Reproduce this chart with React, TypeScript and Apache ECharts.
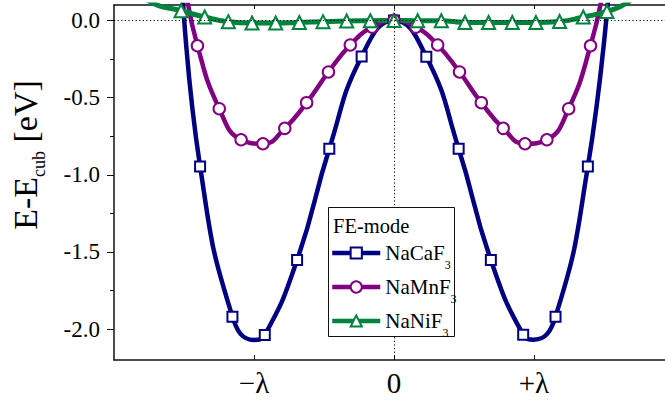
import React, { useEffect, useRef } from "react";
import * as echarts from "echarts";

// ---- Data (x in units of λ, energies in eV) ----
const seriesNames = ["NaCaF3", "NaMnF3", "NaNiF3"];

// NaCaF3 markers
const caX = [-1.385, -1.154, -0.923, -0.692, -0.462, -0.231, 0, 0.231, 0.462, 0.692, 0.923, 1.154, 1.385];
const caE = [-0.946, -1.919, -2.038, -1.552, -0.831, -0.233, 0, -0.235, -0.831, -1.552, -2.036, -1.919, -0.946];
// NaCaF3 fitted curve extra points (no marker)
const caFitX = [-1.512, -1.0, 1.0, 1.535];
const caFitE = [0.2, -2.07, -2.068, 0.2];

// NaMnF3 markers
const mnX = [-1.404, -1.248, -1.092, -0.936, -0.78, -0.624, -0.468, -0.312, -0.156, 0, 0.156, 0.312, 0.468, 0.624, 0.78, 0.936, 1.092, 1.248, 1.404];
const mnE = [-0.164, -0.572, -0.773, -0.799, -0.699, -0.533, -0.334, -0.159, -0.043, 0, -0.043, -0.159, -0.334, -0.533, -0.699, -0.799, -0.773, -0.572, -0.164];
const mnFitX = [-1.49, 1.497];
const mnFitE = [0.21, 0.21];

// NaNiF3 markers
const niX = [-1.521, -1.352, -1.183, -1.014, -0.845, -0.676, -0.507, -0.338, -0.169, 0, 0.169, 0.338, 0.507, 0.676, 0.845, 1.014, 1.183, 1.352, 1.521];
const niE = [0.063, 0.022, -0.008, -0.017, -0.017, -0.013, -0.008, -0.004, -0.002, 0, -0.002, -0.002, -0.013, -0.013, -0.013, -0.013, -0.007, 0.022, 0.058];
const niFitX = [-1.9, -1.74, 1.665, 1.85];
const niFitE = [0.26, 0.12, 0.115, 0.26];

// Axis ticks
const yMajor = [-2, -1.5, -1, -0.5, 0];
const yMinor = [-1.75, -1.25, -0.75, -0.25];
const xTicks = [-1, 0, 1];
const xTickLabels: Record<string, string> = { "-1": "\u2212\u03bb", "0": "0", "1": "+\u03bb" };

const NAVY = "#000080";
const PURPLE = "#800080";
const GREEN = "#00843d";
const SERIF = "'Liberation Serif', 'Times New Roman', serif";

function build(xm: number[], em: number[], xf: number[], ef: number[]) {
  const pts: any[] = [
    ...xm.map((x, i) => ({ value: [x, em[i]] })),
    ...xf.map((x, i) => ({ value: [x, ef[i]], symbol: "none" })),
  ];
  pts.sort((a, b) => a.value[0] - b.value[0]);
  return pts;
}

export default function App() {
  const ref = useRef<HTMLDivElement>(null);
  useEffect(() => {
    if (!ref.current) return;
    const chart = echarts.init(ref.current, null, { renderer: "svg" });
    const mkSeries = (name: string, data: any[], color: string, symbol: string, size: number, width: number) => ({
      name,
      type: "line",
      data,
      smooth: 0.5,
      symbol,
      symbolSize: size,
      showAllSymbol: true,
      clip: true,
      lineStyle: { color, width },
      itemStyle: { color: "#fff", borderColor: color, borderWidth: 2 },
      emphasis: { disabled: true },
      z: 3,
    });
    const axisLine = { show: true, onZero: false, lineStyle: { color: "#111", width: 1.5 } };
    chart.setOption({
      animation: false,
      tooltip: { show: false },
      grid: { left: 114, right: 0, top: 5, bottom: 40, containLabel: false },
      xAxis: [
        {
          type: "value",
          position: "bottom",
          min: -2,
          max: 1.936,
          axisLine,
          axisTick: { show: true, inside: true, length: 5, customValues: xTicks, lineStyle: { color: "#111", width: 1 } },
          axisLabel: {
            customValues: xTicks,
            formatter: (v: number) => xTickLabels[String(Math.round(v))] ?? "",
            fontFamily: SERIF,
            fontSize: 29,
            color: "#000",
            margin: 8,
          },
          splitLine: { show: false },
        },
        {
          type: "value",
          position: "top",
          min: -2,
          max: 1.936,
          axisLine,
          axisTick: { show: true, inside: true, length: 4, customValues: xTicks, lineStyle: { color: "#111", width: 1 } },
          axisLabel: { show: false },
          splitLine: { show: false },
        },
      ],
      yAxis: [
        {
          type: "value",
          position: "left",
          min: -2.2,
          max: 0.1,
          axisLine,
          axisTick: { show: true, inside: false, length: 7, customValues: yMajor, lineStyle: { color: "#111", width: 1 } },
          axisLabel: {
            customValues: yMajor,
            formatter: (v: number) => v.toFixed(1),
            fontFamily: SERIF,
            fontSize: 23,
            color: "#000",
            margin: 14,
          },
          splitLine: { show: false },
        },
        {
          type: "value",
          position: "left",
          min: -2.2,
          max: 0.1,
          axisLine: { show: false, onZero: false },
          axisTick: { show: true, inside: false, length: 4, customValues: yMinor, lineStyle: { color: "#111", width: 1 } },
          axisLabel: { show: false },
          splitLine: { show: false },
        },
      ],
      legend: {
        data: seriesNames,
        orient: "vertical",
        left: 330,
        top: 235,
        padding: 0,
        itemGap: -2,
        itemWidth: 48,
        itemHeight: 14,
        z: 10,
        selectedMode: false,
        lineStyle: { width: 4.5 },
        itemStyle: { borderWidth: 2 },
        formatter: (name: string) => "{m|" + name.slice(0, -1) + "}{s|" + name.slice(-1) + "}",
        textStyle: {
          fontFamily: SERIF,
          color: "#000",
          rich: {
            m: { fontFamily: SERIF, fontSize: 21, color: "#000", lineHeight: 22 },
            s: { fontFamily: SERIF, fontSize: 12, color: "#000", lineHeight: 12, padding: [24, 0, 0, 0] },
          },
        },
      },
      graphic: [
        {
          type: "rect",
          z: 9,
          shape: { x: 328.5, y: 207.5, width: 126, height: 129 },
          style: { fill: "#fff", stroke: "#111", lineWidth: 1 },
          silent: true,
        },
        {
          type: "text",
          z: 10,
          x: 333,
          y: 226,
          style: { text: "FE-mode", font: `20.5px ${SERIF}`, fill: "#000", verticalAlign: "middle", align: "left" },
          silent: true,
        },
        {
          type: "text",
          z: 10,
          x: 25,
          y: 155,
          rotation: Math.PI / 2,
          style: {
            text: "{m|E-E}{s|cub}{m| [eV]}",
            align: "center",
            verticalAlign: "middle",
            fill: "#000",
            rich: {
              m: { fontFamily: SERIF, fontSize: 34, fill: "#000", lineHeight: 36 },
              s: { fontFamily: SERIF, fontSize: 18, fill: "#000", lineHeight: 18, padding: [28, 0, 0, 0] },
            },
          },
          silent: true,
        },
      ],
      series: [
        {
          type: "line",
          data: [],
          silent: true,
          z: 1,
          markLine: {
            silent: true,
            symbol: ["none", "none"],
            label: { show: false },
            lineStyle: { color: "#000", width: 1, type: [1.2, 2.4] },
            emphasis: { disabled: true },
            data: [{ yAxis: 0 }, { xAxis: 0 }],
          },
        },
        mkSeries("NaCaF3", build(caX, caE, caFitX, caFitE), NAVY, "rect", 10, 4.5),
        mkSeries("NaMnF3", build(mnX, mnE, mnFitX, mnFitE), PURPLE, "circle", 11.5, 4.5),
        mkSeries("NaNiF3", build(niX, niE, niFitX, niFitE), GREEN, "triangle", 13, 5),
      ],
    });
    return () => chart.dispose();
  }, []);
  return <div ref={ref} style={{ width: 665, height: 400, position: "absolute", left: 0, top: 0 }} />;
}
